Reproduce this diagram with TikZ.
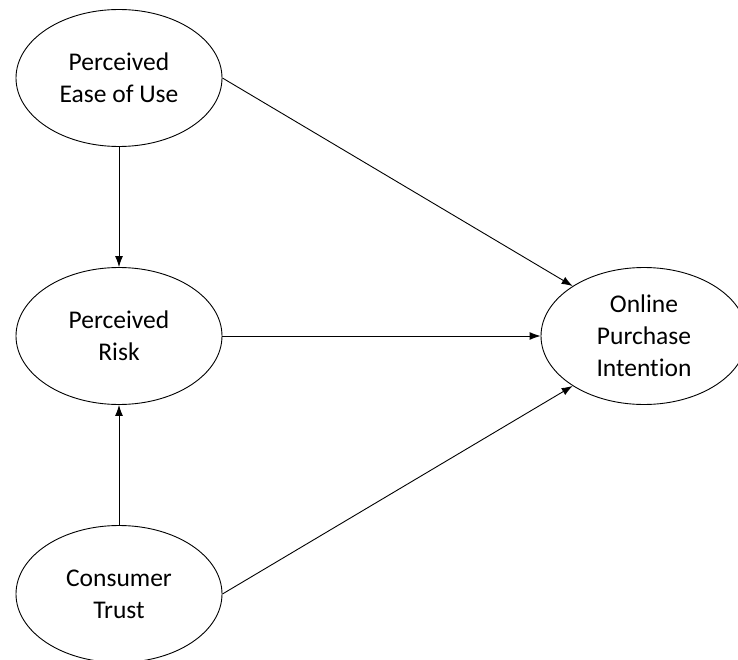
\documentclass[tikz,border=0pt]{standalone}
\usepackage{fontspec}
\setmainfont{Carlito}[Ligatures=NoCommon]
\usepackage{tikz}
\usetikzlibrary{arrows.meta,positioning,shapes.geometric}

\begin{document}
\begin{tikzpicture}[x=1pt,y=-1pt,node distance=258pt,on grid,
  >={Latex[length=11pt,width=8pt]},
  construct/.style={ellipse,draw,line width=0.9pt,minimum width=206pt,minimum height=137pt,
    inner sep=0pt,align=center,font=\fontsize{25.5}{32}\selectfont}]
  \useasboundingbox (0,0) rectangle (738,660);
  \node[construct]       (ease)  at (119,78)          {Perceived\\Ease of Use};
  \node[construct]       (risk)  [below=of ease]      {Perceived\\Risk};
  \node[construct]       (trust) [below=of risk]      {Consumer\\Trust};
  \node[construct]       (intent)[right=525pt of risk] {Online\\Purchase\\Intention};
  \path[->,line width=0.9pt] (ease)  edge (risk)
        (trust) edge (risk)
        (ease.east)  edge (intent.145)
        (risk)  edge (intent)
        (trust.east) edge (intent.215);
\end{tikzpicture}
\end{document}
